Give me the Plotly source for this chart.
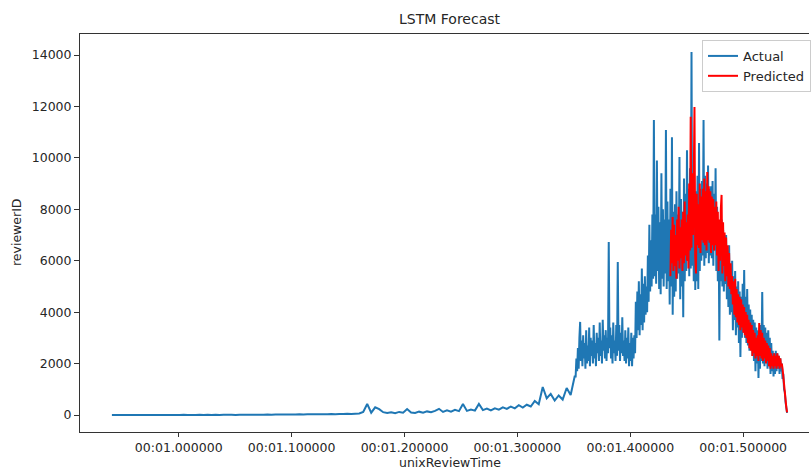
import numpy as np
import plotly.graph_objects as go

# ---- data ----
# unix review times (seconds); the chart labels them as if they were nanoseconds
actual_early_start = 940.81e6
actual_early_end = 1350.71e6
actual_late_start = 1351.59e6
actual_late_end = 1538.87e6
pred_start = 1435.51e6
pred_end = 1538.87e6

actual_early = [
    0, 1, 0, 2, 1, 0, 3, 1, 2, 0, 1, 3, 2, 1, 4, 2, 3, 1, 5, 2, 4, 3, 6, 2, 5, 4, 7, 3, 6, 5, 8, 4, 7, 6, 9,
    10, 8, 14, 11, 16, 12, 18, 15, 21, 17, 24, 19, 26, 22, 29, 25, 31, 27, 34, 30,
    36, 32, 40, 35, 45, 38, 50,
    60, 120, 430, 90, 300, 230, 110, 80, 110, 70,
    120, 90, 230, 100, 80, 130, 90, 140, 110, 160,
    240, 120, 180, 130, 200, 150, 430, 160, 210, 170,
    430, 190, 250, 180, 260, 210, 300, 240, 330, 260,
    380, 290, 400, 330, 550, 420, 1090, 650, 820, 560,
    760, 600, 1050, 780, 1500,
]

actual_late = [
    1500, 2200, 1700, 2600, 1800, 3000, 3620, 2100,
    2900, 1900, 3100, 2200, 2800, 1800, 3300, 2000, 2700, 2100, 3400, 1900,
    3000, 2300, 2900, 2000, 3500, 2200, 2800, 1900, 3200, 2400, 3000, 2100,
    3600, 2300, 2900, 2000, 3700, 2500, 3100, 2200, 3300, 2100, 3000, 2400,
    6730, 2600,
    3400, 2200, 3100, 2000, 3600, 2400, 2900, 2100, 3500, 2300,
    5950, 2500,
    3500, 2100, 3200, 2400, 3800, 2300, 2900, 2100, 3300, 2000, 3000, 2200,
    3400, 1900, 2800, 2100, 3200, 1900, 3000, 2200, 3100, 2400,
    4400, 3000, 4800, 3300, 5200, 3100, 4700, 3500, 5700, 3300, 5100, 3600,
    5400, 3900, 5000, 4000, 6200, 4400,
    7400, 4800, 6800, 5000, 7800, 5300,
    11470, 5400,
    7800, 5100, 9900, 5600, 8100, 4900, 7500, 4700, 9400, 5300, 8000, 5000,
    7600, 5500, 11080, 4900, 8300, 5200,
    7600, 4300, 8800, 5000, 10800, 3900, 7900, 4600, 8200, 4800, 8700, 5300,
    7800, 5500, 10030, 4500, 8400, 5000, 7900, 3800, 9200, 5200, 8600, 5600,
    10300, 6000, 8800, 5400, 9600, 5700, 14120, 5800, 8900, 5200, 8400, 4860,
    8700, 5200, 9300, 4900, 10580, 5600, 8800, 6000, 9100, 6200,
    11470, 5800, 9300, 6100, 9000, 6300, 9700, 5900, 8800, 6200,
    8900, 6100, 9100, 5800, 8600, 6400, 9600, 5600, 8100, 5200,
    7500, 2900, 7400, 5200,
    7600, 5000, 7200, 4800, 6900, 5100, 7000, 4500, 6400, 4200, 6600, 3900,
    5700, 4000, 6000, 3300, 5400, 3700, 5600, 3100, 5000, 3400, 5200, 2800,
    4800, 2260, 4600, 3000, 5100, 3200,
    5640, 3000,
    4600, 2800, 4900, 2700, 4300, 2500, 4100, 2600, 3900, 2300, 3700, 2100,
    3600, 1700, 3400, 2000, 3300, 1440, 3100, 1800, 3500, 2100,
    4780, 2000,
    3500, 1900, 3400, 2100, 3200, 1800, 3300, 1900, 3000, 1600, 2800, 1700,
    2500, 1500, 2400, 1600, 2500, 1700, 2400, 1800, 2300, 1600, 2200, 1700,
    2000, 1400, 1600, 1000, 900, 500, 300, 80,
]

predicted = [
    5400, 7200, 5900, 7700, 5600, 7400, 5800, 7000, 5300, 7600, 6000, 8100,
    5700, 7300, 6100, 7600, 5600, 7900, 5900, 8300, 6200, 7500, 6000, 7800,
    5700, 9000, 6400, 11600, 6500, 9400, 7000, 9000, 11980, 6200,
    5500, 8600, 6600, 8200, 6500, 9000, 6300, 8500, 6800, 8800, 6700, 9200,
    6600, 8700, 6400, 9450, 6800, 8900, 6700, 8700, 6300, 8500, 6600, 8400,
    6400, 8100, 6600, 8300, 6200, 7900,
    5600, 7600, 6000, 8000, 8560, 5500, 7500, 5800, 7100, 5200, 6900, 5400,
    6600, 5000, 6300, 4900, 5900, 4700,
    5400, 4300, 5200, 3900, 5300, 3800, 4900, 3600, 4700, 3500, 4600, 3300,
    4500, 3400, 4300, 3200, 4200, 3100, 4000, 3000, 3900, 2800, 3700, 2600,
    3600, 2500,
    3500, 2300, 3300, 2400, 3200, 2200, 3000, 2300, 3100, 2100, 3580, 2300,
    3300, 2200, 3200, 2100, 3000, 2200, 2900, 2000, 2800, 2100, 2700, 1900,
    2600, 1800,
    2400, 1900, 2300, 1800, 2400, 1900, 2300, 1800, 2400, 1900, 2300, 1800,
    2200, 1900,
    2000, 1800, 1500, 1200, 900, 600, 300, 100,
]

x_tick_vals = [1.0e9, 1.1e9, 1.2e9, 1.3e9, 1.4e9, 1.5e9]
x_tick_text = ["00:01.000000", "00:01.100000", "00:01.200000",
               "00:01.300000", "00:01.400000", "00:01.500000"]
y_tick_vals = [0, 2000, 4000, 6000, 8000, 10000, 12000, 14000]
y_tick_text = [str(v) for v in y_tick_vals]

# ---- build series ----
x_actual = np.concatenate([
    np.linspace(actual_early_start, actual_early_end, len(actual_early)),
    np.linspace(actual_late_start, actual_late_end, len(actual_late)),
])
y_actual = actual_early + actual_late
x_pred = np.linspace(pred_start, pred_end, len(predicted))

FONT = "DejaVu Sans"
TXT = "#262626"
AX = "#333333"

fig = go.Figure()
fig.add_trace(go.Scatter(x=x_actual, y=y_actual, mode="lines", name="Actual",
                         line=dict(color="#1f77b4", width=2.0, simplify=False)))
fig.add_trace(go.Scatter(x=x_pred, y=predicted, mode="lines", name="Predicted",
                         line=dict(color="#ff0000", width=2.0, simplify=False)))

fig.update_layout(
    width=811, height=469,
    margin=dict(l=80, r=0, t=34, b=37),
    paper_bgcolor="white", plot_bgcolor="white",
    font=dict(family=FONT, size=13, color=TXT),
    showlegend=True,
    legend=dict(x=0.8536, y=0.985, xanchor="left", yanchor="top",
                bgcolor="rgba(255,255,255,0.85)", bordercolor="#cccccc", borderwidth=1,
                font=dict(family=FONT, size=13, color=TXT),
                tracegroupgap=0, itemwidth=30),
    xaxis=dict(range=[912.544e6, 1558.304e6], tickvals=x_tick_vals, ticktext=x_tick_text,
               showgrid=False, zeroline=False, showline=True, linecolor=AX, linewidth=1,
               mirror=True, ticks="outside", ticklen=4, tickcolor=AX, tickwidth=1,
               tickfont=dict(family=FONT, size=12.5, color=TXT)),
    yaxis=dict(range=[-661, 14817], tickvals=y_tick_vals, ticktext=y_tick_text,
               showgrid=False, zeroline=False, showline=True, linecolor=AX, linewidth=1,
               ticks="outside", ticklen=5, tickcolor=AX, tickwidth=1,
               tickfont=dict(family=FONT, size=12.5, color=TXT)),
    annotations=[
        dict(text="LSTM Forecast", xref="paper", yref="paper", x=0.5075, y=1,
             yshift=5, xanchor="center", yanchor="bottom", showarrow=False,
             font=dict(family=FONT, size=14, color=TXT)),
        dict(text="unixReviewTime", xref="paper", yref="paper", x=0.5075, y=0,
             yshift=-21, xanchor="center", yanchor="top", showarrow=False,
             font=dict(family=FONT, size=12.5, color=TXT)),
        dict(text="reviewerID", xref="paper", yref="paper", x=0, y=0.5,
             xshift=-64, xanchor="center", yanchor="middle", showarrow=False, textangle=-90,
             font=dict(family=FONT, size=12.5, color=TXT)),
    ],
)

fig.write_html(
    "out.html",
    config={"displayModeBar": False},
    post_script="document.body.style.margin='0';document.body.style.overflow='hidden';",
)
